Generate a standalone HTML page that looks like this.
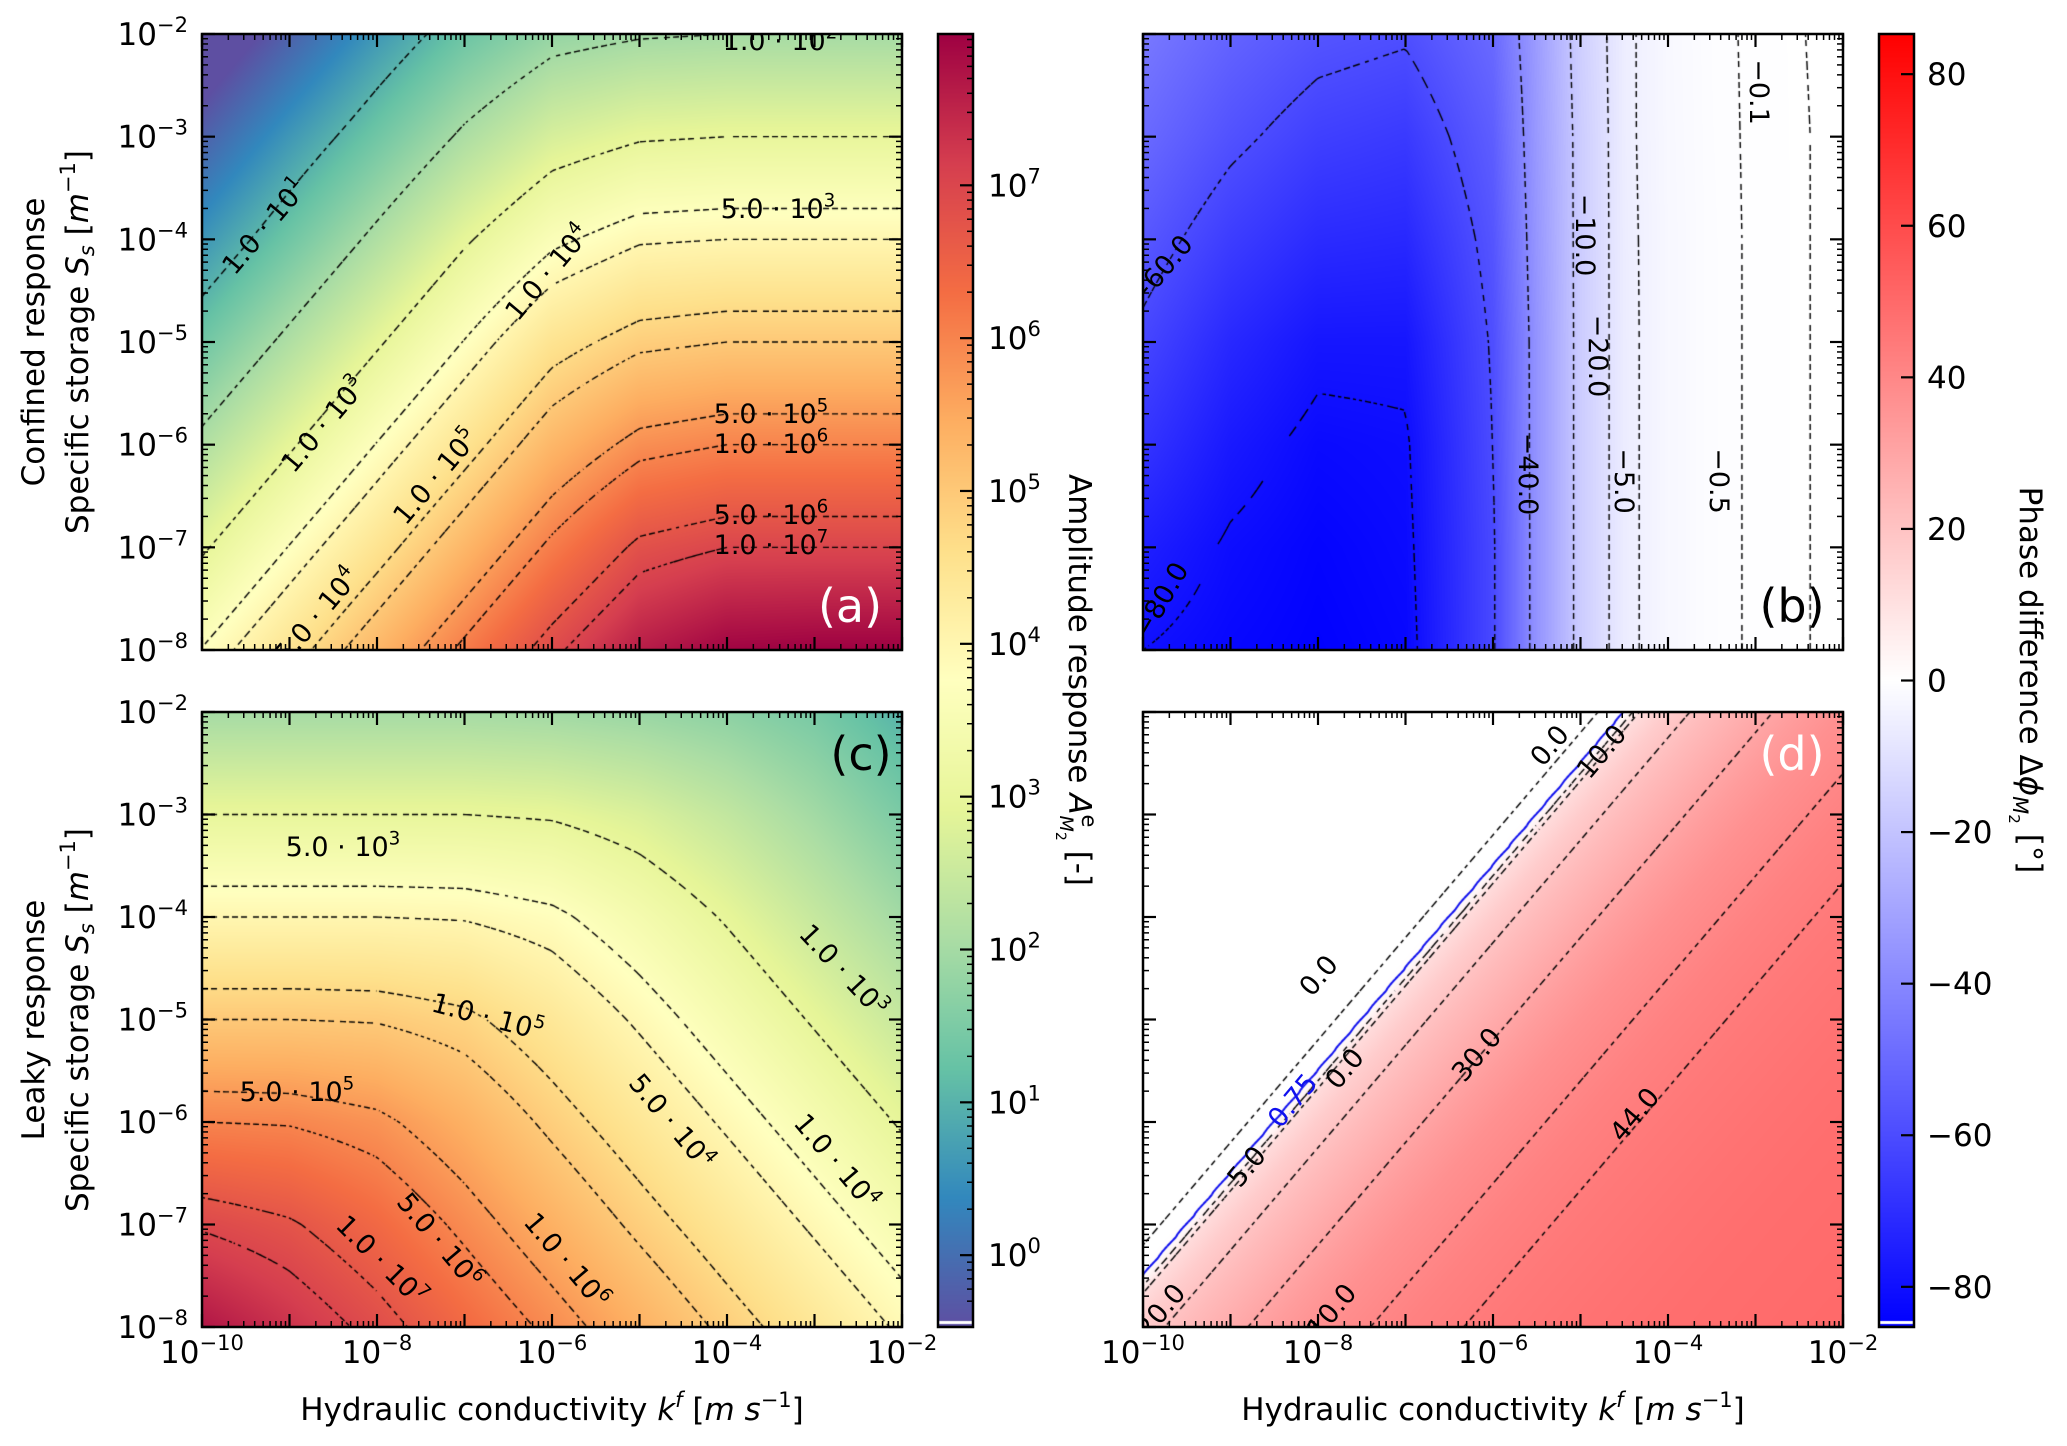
<!DOCTYPE html>
<html><head><meta charset="utf-8">
<style>
body{margin:0;background:#fff;width:2067px;height:1446px;overflow:hidden;position:relative;font-family:"DejaVu Sans","Liberation Sans",sans-serif}
canvas{position:absolute}
svg{position:absolute;left:0;top:0}
</style></head>
<body>
<canvas id="ca" style="left:202px;top:34px" width="700" height="616"></canvas>
<canvas id="cc" style="left:202px;top:712px" width="700" height="615"></canvas>
<canvas id="cb" style="left:1143px;top:34px" width="700" height="616"></canvas>
<canvas id="cd" style="left:1143px;top:712px" width="700" height="615"></canvas>
<canvas id="cbar1" style="left:938px;top:34px" width="35" height="1293"></canvas>
<canvas id="cbar2" style="left:1879px;top:34px" width="35" height="1293"></canvas>
<svg id="svg" width="2067" height="1446"></svg>
<script>
// ---- data ----
const gridK=[-10,-9,-8,-7,-6,-5,-4,-3,-2];
const gridS=[-2,-3,-4,-5,-6,-7,-8];
const ampConfined=[
[-1.0,-0.2,0.6,1.3,1.8,1.95,2,2,2],
[-0.2,0.6,1.35,2.1,2.7,2.95,3,3,3],
[0.56,1.35,2.14,2.93,3.6,3.95,4,4,4],
[1.35,2.14,2.93,3.72,4.5,4.9,5,5,5],
[2.14,2.93,3.72,4.5,5.3,5.85,6,6,6],
[2.93,3.72,4.5,5.3,6.1,6.8,7,7,7],
[3.72,4.5,5.3,6.1,6.9,7.6,7.95,8,8]];
const ampLeaky=[
[2,2,2,2,1.95,1.85,1.7,1.45,1.0],
[3,3,3,3,2.95,2.75,2.4,1.97,1.48],
[4,4,4,3.97,3.8,3.4,2.95,2.46,1.97],
[5,5,4.97,4.8,4.4,3.93,3.44,2.95,2.46],
[6,5.97,5.8,5.4,4.9,4.42,3.93,3.44,2.95],
[6.95,6.75,6.38,5.9,5.4,4.9,4.42,3.93,3.44],
[7.7,7.3,6.87,6.38,5.9,5.4,4.9,4.42,3.93]];
const gridKb=[-10,-9,-8,-7,-6,-5.5,-5,-4.5,-4,-3.5,-3,-2.5,-2];
const phaseConfined=[
[-45,-52,-57,-59,-50,-33,-16,-6,-2.3,-0.8,-0.3,-0.11,-0.04],
[-50,-58,-64,-66,-54,-34,-17,-6,-2.4,-0.85,-0.31,-0.12,-0.04],
[-56,-65,-71,-72,-57,-35,-17,-6.2,-2.5,-0.9,-0.32,-0.12,-0.04],
[-62,-72,-78,-78,-59,-36,-17,-6.3,-2.5,-0.9,-0.32,-0.12,-0.04],
[-68,-77,-82,-81,-60,-36,-17,-6.3,-2.5,-0.9,-0.32,-0.12,-0.04],
[-75,-81,-84,-82,-61,-36,-17,-6.3,-2.5,-0.9,-0.32,-0.12,-0.04],
[-80,-83,-85,-83,-61,-36,-17,-6.3,-2.5,-0.9,-0.32,-0.12,-0.04]];
const leakyDiff=[-8,-3,-2.6,-2.5,-2.4,-2.3,-2,-1.5,-1,-0.5,0,1,2,3,4,6];
const leakyPhase=[0,0,0.1,0.75,5,12,17,23,28,33,37,42,45,47,48.5,50];
const ampLevels=[1,2,3,3.7,4,4.7,5,5.7,6,6.7,7];
const ampLeakyLevels=[3,3.7,4,4.7,5,5.7,6,6.7,7];
const phaseConfLevels=[-80,-60,-40,-20,-10,-5,-0.5,-0.1];
const phaseLeakyLevels=[0.05,5,10,20,30,40,44];
const phaseBlueLevel=[0.75];
const ampCbTicks=[0,1,2,3,4,5,6,7];
const phaseCbTicks=[-80,-60,-40,-20,0,20,40,60,80];
const xTickExp=[-10,-8,-6,-4,-2];
const yTickExp=[-8,-7,-6,-5,-4,-3,-2];

// ---- geometry ----
const PA={x0:202,x1:902,y0:34,y1:650},PC={x0:202,x1:902,y0:712,y1:1327},
      PB={x0:1143,x1:1843,y0:34,y1:650},PD={x0:1143,x1:1843,y0:712,y1:1327};
const AMIN=-0.47,AMAX=7.99,PMIN=-85.3,PMAX=85.3;
const CB1={x0:938,x1:973,y0:34,y1:1327},CB2={x0:1879,x1:1914,y0:34,y1:1327};
function xmap(P,k){return P.x0+(k+10)/8*(P.x1-P.x0);}
function ymap(P,s){return P.y0+(-2-s)/6*(P.y1-P.y0);}

function interp1(xs,ys,x){if(x<=xs[0])return ys[0];for(let i=1;i<xs.length;i++){if(x<=xs[i]){const t=(x-xs[i-1])/(xs[i]-xs[i-1]);return ys[i-1]+t*(ys[i]-ys[i-1]);}}return ys[ys.length-1];}
function bil(ks,g,k,s){
  let i=0;while(i<ks.length-2&&k>ks[i+1])i++;
  let fx=(k-ks[i])/(ks[i+1]-ks[i]);fx=Math.max(0,Math.min(1,fx));
  let fj=(-2-s);fj=Math.max(0,Math.min(6,fj));let j=Math.min(5,Math.floor(fj));let fy=fj-j;
  const a=g[j][i],b=g[j][i+1],c=g[j+1][i],d=g[j+1][i+1];
  return (a*(1-fx)+b*fx)*(1-fy)+(c*(1-fx)+d*fx)*fy;}
const fA=(k,s)=>bil(gridK,ampConfined,k,s);
const fC=(k,s)=>bil(gridK,ampLeaky,k,s);
const fB=(k,s)=>bil(gridKb,phaseConfined,k,s);
const fD=(k,s)=>interp1(leakyDiff,leakyPhase,k-s);

const spec=[[94,79,162],[50,136,189],[102,194,165],[171,221,164],[230,245,152],[255,255,191],[254,224,139],[253,174,97],[244,109,67],[213,62,79],[158,1,66]];
function spectral(v){let t=(v-AMIN)/(AMAX-AMIN);t=Math.max(0,Math.min(1,t))*10;const i=Math.min(9,Math.floor(t)),f=t-i;const a=spec[i],b=spec[i+1];return [a[0]+(b[0]-a[0])*f,a[1]+(b[1]-a[1])*f,a[2]+(b[2]-a[2])*f];}
function bwr(v){const t=Math.max(-1,Math.min(1,v/85.3));if(t<0){const c=255*(1+t);return [c,c,255];}const c=255*(1-t);return [255,c,c];}

function drawHeat(id,P,f,cmap,levels,extra){
  const cv=document.getElementById(id),ctx=cv.getContext('2d');
  const W=cv.width,H=cv.height,img=ctx.createImageData(W,H);
  for(let y=0;y<H;y++){const s=-2-(y+0.5)/H*6;for(let x=0;x<W;x++){const k=-10+(x+0.5)/W*8;const c=cmap(f(k,s));const o=(y*W+x)*4;img.data[o]=c[0];img.data[o+1]=c[1];img.data[o+2]=c[2];img.data[o+3]=255;}}
  ctx.putImageData(img,0,0);
  const st=3,nx=Math.ceil(W/st)+1,ny=Math.ceil(H/st)+1,F=[];
  for(let j=0;j<ny;j++){F.push([]);for(let i=0;i<nx;i++){F[j].push(f(-10+i*st/W*8,-2-j*st/H*6));}}
  function run(lv,color,dashed,lw){
    ctx.strokeStyle=color;ctx.lineWidth=lw;ctx.beginPath();
    for(let j=0;j<ny-1;j++)for(let i=0;i<nx-1;i++){
      const c=[[i,j],[i+1,j],[i+1,j+1],[i,j+1]];const pts=[];
      for(let e=0;e<4;e++){const p=c[e],q=c[(e+1)%4];const a=F[p[1]][p[0]]-lv,b=F[q[1]][q[0]]-lv;
        if((a<0)!==(b<0)){const t=a/(a-b);pts.push([(p[0]+(q[0]-p[0])*t)*st,(p[1]+(q[1]-p[1])*t)*st]);}}
      for(let m=0;m+1<pts.length;m+=2){const A=pts[m],B=pts[m+1];const mx=(A[0]+B[0])/2,my=(A[1]+B[1])/2;
        if(dashed){let dx=B[0]-A[0],dy=B[1]-A[1];const L=Math.hypot(dx,dy)||1;dx/=L;dy/=L;if(dx<0||(dx===0&&dy<0)){dx=-dx;dy=-dy;}
          const ph=((mx*dx+my*dy)%10+10)%10;if(ph>6)continue;}
        ctx.moveTo(A[0],A[1]);ctx.lineTo(B[0],B[1]);}}
    ctx.stroke();}
  levels.forEach(lv=>run(lv,'#000',true,1.4));
  if(extra)extra.forEach(lv=>run(lv,'#1010ee',false,2));
}
drawHeat('ca',PA,fA,spectral,ampLevels);
drawHeat('cc',PC,fC,spectral,ampLeakyLevels);
drawHeat('cb',PB,fB,bwr,phaseConfLevels);
drawHeat('cd',PD,fD,bwr,phaseLeakyLevels,phaseBlueLevel);

function drawBar(id,vmin,vmax,cmap){const cv=document.getElementById(id),ctx=cv.getContext('2d');const H=cv.height;
  for(let y=0;y<H;y++){const v=vmax-(y+0.5)/H*(vmax-vmin);const c=cmap(v);ctx.fillStyle='rgb('+c.map(Math.round).join(',')+')';ctx.fillRect(0,y,cv.width,1);}
  ctx.fillStyle='#fff';ctx.fillRect(0,H-6,cv.width,3);}
drawBar('cbar1',AMIN,AMAX,spectral);
drawBar('cbar2',PMIN,PMAX,bwr);

// ---- svg ----
const NS='http://www.w3.org/2000/svg',svg=document.getElementById('svg');
function mk(tag,attrs,parent){const e=document.createElementNS(NS,tag);for(const a in attrs)e.setAttribute(a,attrs[a]);(parent||svg).appendChild(e);return e;}
function powLabel(x,y,base,exp,anchor,size,parent){
  const t=mk('text',{x:x,y:y,'text-anchor':anchor,'font-size':size,fill:'#000'},parent);
  t.appendChild(document.createTextNode(base));
  const sp=mk('tspan',{dy:-size*0.42,'font-size':size*0.68},t);sp.textContent=exp;
  return t;}

function axes(P,name,showX,showY){
  const g=mk('g',{});
  
  
  for(let e=-10;e<=-2;e++){
    for(let m=1;m<=(e<-2?9:1);m++){
      const k=e+Math.log10(m),x=xmap(P,k),L=m===1?13:6,w=m===1?2.2:1.5;
      const t1=mk('line',{x1:x,x2:x,y1:P.y1,y2:P.y1-L,stroke:'#000','stroke-width':w},g);
      
      
      const t2=mk('line',{x1:x,x2:x,y1:P.y0,y2:P.y0+L,stroke:'#000','stroke-width':w},g);
      
      }}
  for(let e=-8;e<=-2;e++){
    for(let m=1;m<=(e<-2?9:1);m++){
      const s=e+Math.log10(m),y=ymap(P,s),L=m===1?13:6,w=m===1?2.2:1.5;
      const t1=mk('line',{x1:P.x0,x2:P.x0+L,y1:y,y2:y,stroke:'#000','stroke-width':w},g);
      
      
      const t2=mk('line',{x1:P.x1,x2:P.x1-L,y1:y,y2:y,stroke:'#000','stroke-width':w},g);
      
      }}
  const fr=mk('rect',{x:P.x0,y:P.y0,width:P.x1-P.x0,height:P.y1-P.y0,fill:'none',stroke:'#000','stroke-width':2.5},g);
  
  
  if(showX){xTickExp.forEach(e=>{const l=powLabel(xmap(P,e),1363,'10','\u2212'+(-e),'middle',31);
    
    });}
  if(showY){yTickExp.forEach(e=>{const l=powLabel(188,ymap(P,e)+11,'10','\u2212'+(-e),'end',31);
    
    });}
}
axes(PA,'panel-a',false,true);
axes(PC,'panel-c',true,true);
axes(PB,'panel-b',false,false);
axes(PD,'panel-d',true,false);

// colorbars
const f1=mk('rect',{x:CB1.x0,y:CB1.y0,width:CB1.x1-CB1.x0,height:CB1.y1-CB1.y0,fill:'none',stroke:'#000','stroke-width':2.5});


const f2=mk('rect',{x:CB2.x0,y:CB2.y0,width:CB2.x1-CB2.x0,height:CB2.y1-CB2.y0,fill:'none',stroke:'#000','stroke-width':2.5});


function cb1y(v){return CB1.y0+(AMAX-v)/(AMAX-AMIN)*(CB1.y1-CB1.y0);}
function cb2y(v){return CB2.y0+(PMAX-v)/(PMAX-PMIN)*(CB2.y1-CB2.y0);}
ampCbTicks.forEach(e=>{
  for(let m=1;m<=9;m++){const v=e+Math.log10(m);if(v>AMAX)break;const y=cb1y(v);
    const t=mk('line',{x1:CB1.x1,x2:CB1.x1-(m===1?13:6),y1:y,y2:y,stroke:'#000','stroke-width':m===1?2.2:1.5});
    
    }
  const l=powLabel(988,cb1y(e)+11,'10',String(e),'start',31);
  
  });
for(let m=5;m<=9;m++){const y=cb1y(-1+Math.log10(m));if(y>CB1.y1)continue;
  const t=mk('line',{x1:CB1.x1,x2:CB1.x1-6,y1:y,y2:y,stroke:'#000','stroke-width':1.5});
  
  }
phaseCbTicks.forEach(v=>{const y=cb2y(v);
  const t=mk('line',{x1:CB2.x1,x2:CB2.x1-13,y1:y,y2:y,stroke:'#000','stroke-width':2.2});
  
  
  const l=mk('text',{x:1927,y:y+11,'font-size':31});
  l.textContent=(v<0?'\u2212':'')+Math.abs(v);
  
  });

// contour labels
const clip=(id,P)=>{const c=mk('clipPath',{id:id});mk('rect',{x:P.x0,y:P.y0,width:P.x1-P.x0,height:P.y1-P.y0},c);};
clip('clA',PA);clip('clB',PB);clip('clC',PC);clip('clD',PD);
const labelsAmp=[
 ['clA','1.0 \u00b7 10','2',780,40,0],['clA','1.0 \u00b7 10','1',264,226,-50],['clA','5.0 \u00b7 10','3',778,208,0],
 ['clA','1.0 \u00b7 10','4',547,272,-50],['clA','1.0 \u00b7 10','3',323,424,-50],['clA','5.0 \u00b7 10','5',771,413,0],
 ['clA','1.0 \u00b7 10','6',771,443,0],['clA','1.0 \u00b7 10','5',435,476,-50],['clA','5.0 \u00b7 10','6',771,514,0],
 ['clA','1.0 \u00b7 10','7',771,544,0],['clA','5.0 \u00b7 10','4',316,615,-50],
 ['clC','5.0 \u00b7 10','3',343,846,0],['clC','1.0 \u00b7 10','3',844,970,47],['clC','1.0 \u00b7 10','5',488,1016,15],
 ['clC','5.0 \u00b7 10','4',672,1121,50],['clC','5.0 \u00b7 10','5',297,1091,0],['clC','1.0 \u00b7 10','4',837,1161,50],
 ['clC','1.0 \u00b7 10','6',567,1260,50],['clC','5.0 \u00b7 10','6',440,1240,50],['clC','1.0 \u00b7 10','7',382,1260,45]];
labelsAmp.forEach(a=>{const g=mk('g',{'clip-path':'url(#'+a[0]+')'});
  const t=powLabel(0,10,a[1],a[2],'middle',27,g);t.setAttribute('transform','translate('+a[3]+','+a[4]+') rotate('+a[5]+')');
  
  });
const labelsPhase=[
 ['clB','\u221260.0',1160,270,-50,'#000'],['clB','\u221210.0',1586,235,90,'#000'],['clB','\u22120.1',1760,92,90,'#000'],
 ['clB','\u221220.0',1599,356,90,'#000'],['clB','\u221240.0',1529,474,90,'#000'],['clB','\u22125.0',1625,481,90,'#000'],
 ['clB','\u22120.5',1720,481,90,'#000'],['clB','\u221280.0',1160,600,-60,'#000'],
 ['clD','0.0',1318,975,-50,'#000'],['clD','0.0',1549,745,-50,'#000'],['clD','0.0',1344,1068,-50,'#000'],
 ['clD','0.75',1292,1100,-50,'#1010ee'],['clD','5.0',1246,1166,-50,'#000'],['clD','10.0',1601,751,-50,'#000'],
 ['clD','30.0',1476,1054,-50,'#000'],['clD','44.0',1634,1114,-50,'#000'],['clD','10.0',1331,1310,-50,'#000'],['clD','20.0',1160,1310,-50,'#000']];
labelsPhase.forEach(a=>{const g=mk('g',{'clip-path':'url(#'+a[0]+')'});
  const t=mk('text',{x:0,y:10,'text-anchor':'middle','font-size':27,fill:a[5],transform:'translate('+a[2]+','+a[3]+') rotate('+a[4]+')'},g);
  t.textContent=a[1];
  
  });

// panel letters
[['(a)',850,622,'#fff'],['(c)',861,770,'#000'],['(b)',1792,622,'#000'],['(d)',1792,770,'#fff']].forEach(a=>{
  const t=mk('text',{x:a[1],y:a[2],'text-anchor':'middle','font-size':46,fill:a[3]});t.textContent=a[0];
  
  });
</script>
<svg width="2067" height="1446" style="position:absolute;left:0;top:0" font-family="DejaVu Sans, Liberation Sans, sans-serif" font-size="31">
 <text transform="translate(44,342) rotate(-90)" text-anchor="middle">Confined response</text>
 <text transform="translate(88,342) rotate(-90)" text-anchor="middle">Specific storage <tspan font-style="italic">S</tspan><tspan font-style="italic" font-size="21" dy="6">s</tspan><tspan dy="-6"> [</tspan><tspan font-style="italic">m</tspan><tspan font-size="21" dy="-13">−1</tspan><tspan dy="13">]</tspan></text>
 <text transform="translate(44,1020) rotate(-90)" text-anchor="middle">Leaky response</text>
 <text transform="translate(88,1020) rotate(-90)" text-anchor="middle">Specific storage <tspan font-style="italic">S</tspan><tspan font-style="italic" font-size="21" dy="6">s</tspan><tspan dy="-6"> [</tspan><tspan font-style="italic">m</tspan><tspan font-size="21" dy="-13">−1</tspan><tspan dy="13">]</tspan></text>
 <text x="552" y="1420" text-anchor="middle">Hydraulic conductivity <tspan font-style="italic">k</tspan><tspan font-style="italic" font-size="21" dy="-13">f</tspan><tspan dy="13"> [</tspan><tspan font-style="italic">m s</tspan><tspan font-size="21" dy="-13">−1</tspan><tspan dy="13">]</tspan></text>
 <text x="1493" y="1420" text-anchor="middle">Hydraulic conductivity <tspan font-style="italic">k</tspan><tspan font-style="italic" font-size="21" dy="-13">f</tspan><tspan dy="13"> [</tspan><tspan font-style="italic">m s</tspan><tspan font-size="21" dy="-13">−1</tspan><tspan dy="13">]</tspan></text>
 <text transform="translate(1069,680) rotate(90)" text-anchor="middle">Amplitude response <tspan font-style="italic">A</tspan><tspan font-size="21" dy="-13">e</tspan><tspan font-style="italic" font-size="19" dx="-12" dy="22">M</tspan><tspan font-size="14" dy="4">2</tspan><tspan dy="-13"> [-]</tspan></text>
 <text transform="translate(2020,680) rotate(90)" text-anchor="middle">Phase difference Δ<tspan font-style="italic">ϕ</tspan><tspan font-style="italic" font-size="21" dy="7">M</tspan><tspan font-size="15" dy="4">2</tspan><tspan dy="-11"> [°]</tspan></text>
</svg>
</body></html>
